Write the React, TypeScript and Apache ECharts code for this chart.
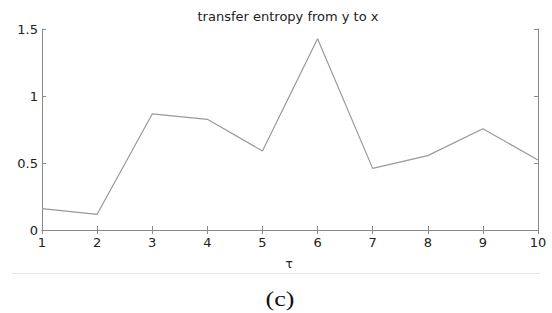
import React, { useEffect, useRef } from "react";
import * as echarts from "echarts";

const tau = [1, 2, 3, 4, 5, 6, 7, 8, 9, 10];
const entropy = [0.16, 0.117, 0.866, 0.826, 0.59, 1.428, 0.46, 0.555, 0.756, 0.522];
const titleText = "transfer entropy from y to x";
const xName = "τ";
const caption = "(c)";

export default function App() {
  const ref = useRef<HTMLDivElement>(null);
  useEffect(() => {
    if (!ref.current) return;
    const chart = echarts.init(ref.current, undefined, { renderer: "svg" });
    const axisColor = "#8a8a8a";
    const textColor = "#222";
    const font = "DejaVu Sans, sans-serif";
    const commonX = {
      type: "value" as const,
      min: 1,
      max: 10,
      interval: 1,
      axisLine: { show: true, lineStyle: { color: axisColor, width: 1 } },
      axisTick: { show: true, inside: true, length: 4, lineStyle: { color: axisColor } },
      splitLine: { show: false },
    };
    const commonY = {
      type: "value" as const,
      min: 0,
      max: 1.5,
      interval: 0.5,
      axisLine: { show: true, lineStyle: { color: axisColor, width: 1 } },
      axisTick: { show: true, inside: true, length: 4, lineStyle: { color: axisColor } },
      splitLine: { show: false },
    };
    chart.setOption({
      animation: false,
      backgroundColor: "#fff",
      grid: { left: 42, right: 14, top: 29, bottom: 83, containLabel: false },
      xAxis: [
        {
          ...commonX,
          position: "bottom",
          axisLabel: { color: textColor, fontSize: 13, fontFamily: font, margin: 6 },
        },
        {
          ...commonX,
          position: "top",
          axisLabel: { show: false },
        },
      ],
      yAxis: [
        {
          ...commonY,
          position: "left",
          axisLabel: { color: textColor, fontSize: 13, fontFamily: font, margin: 4 },
        },
        {
          ...commonY,
          position: "right",
          axisLabel: { show: false },
        },
      ],
      series: [
        {
          type: "line",
          data: tau.map((t, i) => [t, entropy[i]]),
          showSymbol: false,
          lineStyle: { color: "#999", width: 1.2 },
          xAxisIndex: 0,
          yAxisIndex: 0,
        },
      ],
      graphic: [
        {
          type: "text",
          x: 288,
          y: 16,
          style: {
            text: titleText,
            fontSize: 13,
            fill: textColor,
            fontFamily: font,
            align: "center",
            verticalAlign: "middle",
          },
        },
        {
          type: "text",
          x: 289,
          y: 264,
          style: {
            text: xName,
            fontSize: 12,
            fill: textColor,
            fontFamily: font,
            align: "center",
            verticalAlign: "middle",
          },
        },
        {
          type: "line",
          shape: { x1: 12, y1: 273.5, x2: 540, y2: 273.5 },
          style: { stroke: "#e6e6e6", lineWidth: 1 },
        },
        {
          type: "text",
          x: 280,
          y: 299,
          scaleX: 1.3,
          style: {
            text: caption,
            fontSize: 20,
            fill: "#111",
            fontFamily: "Liberation Serif, Times New Roman, serif",
            align: "center",
            verticalAlign: "middle",
          },
        },
      ],
    });
    return () => chart.dispose();
  }, []);
  return (
    <div
      ref={ref}
      style={{ position: "fixed", left: 0, top: 0, width: 552, height: 313, background: "#fff" }}
    />
  );
}
